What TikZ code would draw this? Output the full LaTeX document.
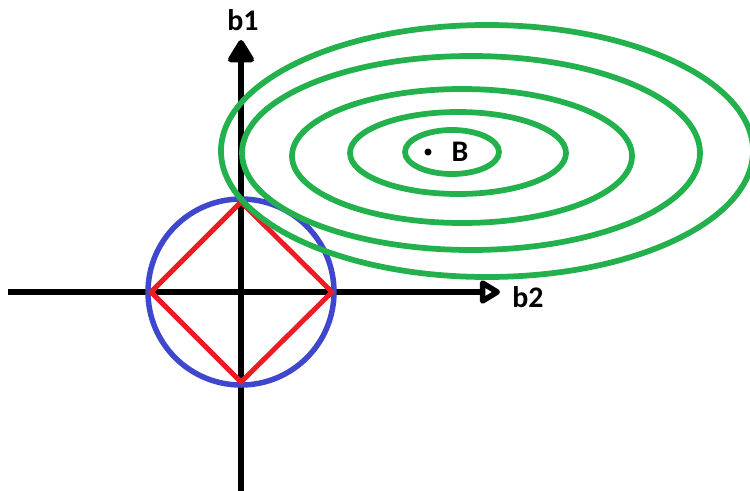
\documentclass[tikz,border=0pt]{standalone}
\usepackage{fontspec}
\setmainfont{Carlito}
\usepackage{tikz}
\usetikzlibrary{arrows.meta, calc}

\definecolor{paintgreen}{RGB}{34,177,76}
\definecolor{paintblue}{RGB}{63,72,204}
\definecolor{paintred}{RGB}{237,28,36}

\begin{document}
\begin{tikzpicture}[x=0.02cm, y=-0.02cm]
    \tikzset{
        axis line/.style={line width=0.11cm, black},
        contour/.style={line width=0.115cm, paintgreen},
        axis label/.style={font=\fontsize{17}{17}\selectfont\bfseries, text=black, inner sep=0pt}
    }
    \useasboundingbox (0,0) rectangle (750,490);
    \clip (0,0) rectangle (750,490);

    \coordinate (O) at (241,292);
    \coordinate (b1 end) at (241,40);
    \coordinate (b1 start) at (241,492);
    \coordinate (b2 start) at (8,292);
    \coordinate (b2 end) at (500,292);
    \coordinate (B) at (428,152);

    % axes
    \draw[axis line, -{Triangle[round, length=0.5cm, width=0.58cm]}] (b1 start) -- (b1 end);
    \draw[axis line, -{Triangle[open, round, length=0.46cm, width=0.52cm]}] (b2 start) -- (b2 end);
    \node[axis label] (b1) at (243,20) {b1};
    \node[axis label] (b2) at (528,297) {b2};

    % unit balls
    \draw[line width=0.11cm, paintblue] (O) circle [radius=93];
    \draw[line width=0.1cm, paintred, line join=round]
        ($(O)+(-90,0)$) -- ($(O)+(0,-90)$) -- ($(O)+(91,0)$) -- ($(O)+(0,90)$) -- cycle;

    % contours round B
    \draw[contour] (452,152) ellipse [x radius=47, y radius=22];
    \draw[contour] (458,153) ellipse [x radius=108, y radius=41];
    \draw[contour] (462,156) ellipse [x radius=170, y radius=67];
    \draw[contour] (471,153) ellipse [x radius=229, y radius=97];
    \draw[contour] (487,151) ellipse [x radius=266, y radius=126];

    \fill[black] (B) circle [radius=3.5];
    \node[axis label] (B label) at (460,152) {B};
\end{tikzpicture}
\end{document}
